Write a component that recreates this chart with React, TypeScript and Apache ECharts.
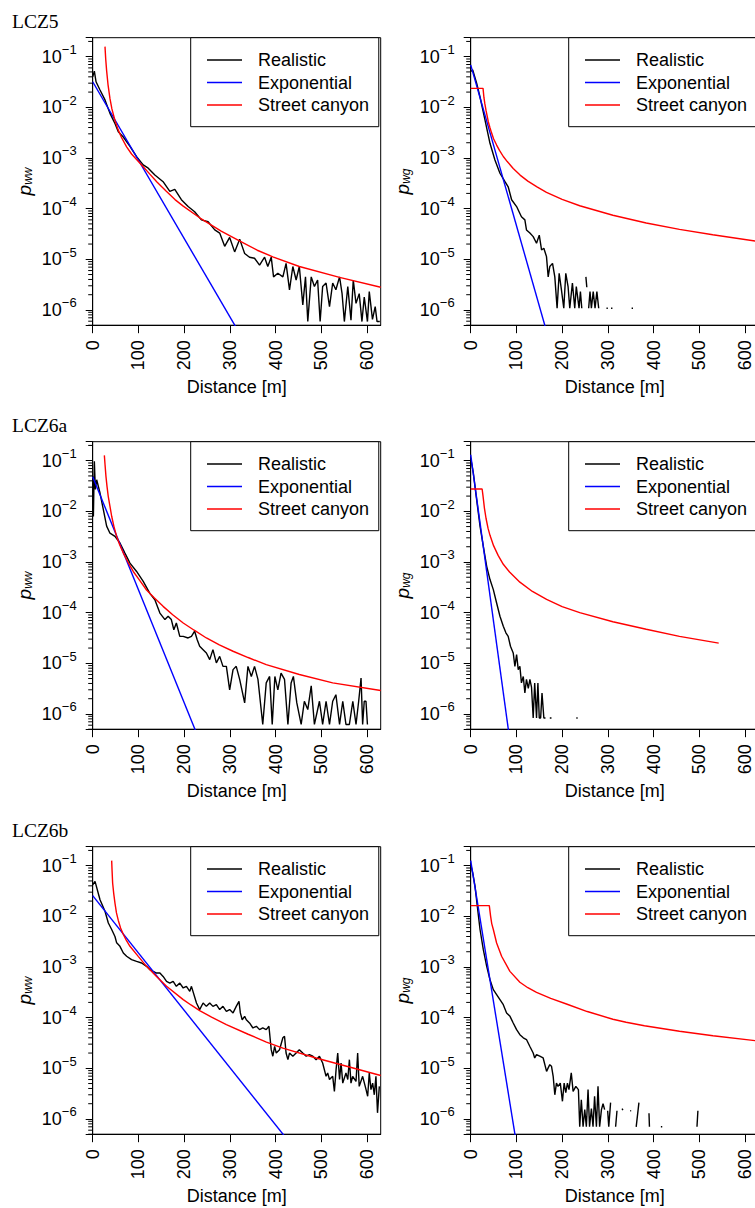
import React, { useEffect, useRef } from 'react';
import * as echarts from 'echarts';

type Pt = [number, number | null];

const SERIES_NAMES = ['Realistic', 'Exponential', 'Street canyon'];
const SERIES_COLORS = ['#000000', '#0000ff', '#ff0000'];
const ROW_LABELS = ['LCZ5', 'LCZ6a', 'LCZ6b'];
const X_TICKS = [0, 100, 200, 300, 400, 500, 600];
const X_NAME = 'Distance [m]';
const Y_SUBSCRIPTS = ['ww', 'wg'];
const X_MIN = 0;
const X_MAX = 630;
const Y_MIN = 5e-7;
const Y_MAX = 0.237;

// ---------- LCZ5 ----------
const lcz5WwRealistic: Pt[] = [
  [0, 4.0e-2], [3.6, 5.2e-2], [7.3, 3.2e-2], [16, 2.2e-2], [26.9, 1.4e-2], [37.8, 7.6e-3], [48.7, 4.8e-3],
  [56, 3.3e-3], [66.9, 2.6e-3], [81.5, 1.7e-3], [96, 1.06e-3], [110.5, 7.3e-4], [121.5, 6.3e-4], [136, 4.6e-4],
  [154, 3.4e-4], [168.7, 2.2e-4], [179.6, 2.4e-4], [194, 1.5e-4], [208.7, 1.1e-4], [223, 8.7e-5], [237.8, 6.0e-5],
  [252.4, 5.5e-5], [267, 3.8e-5], [277.8, 3.3e-5], [288.7, 1.8e-5], [299.6, 2.7e-5], [310.5, 1.4e-5], [321.5, 2.5e-5],
  [332.4, 1.3e-5], [343, 1.1e-5], [354, 1.05e-5], [365, 7.7e-6], [376, 1.1e-5], [383, 7.2e-6], [390.5, 1.1e-5],
  [395.6, 4.5e-6], [405, 5.3e-6], [416, 4.5e-6], [423, 8.3e-6], [430.5, 2.5e-6], [437.8, 7.2e-6], [445, 3.9e-6],
  [452, 7.2e-6], [459.6, 1.26e-6], [465.5, 4.5e-6], [470.5, 5.9e-7], [478, 4.5e-6], [485, 2.9e-6], [492, 3.9e-6],
  [497.5, 5.9e-7], [503, 2.9e-6], [510.5, 3.4e-6], [518, 1.16e-6], [525, 3.4e-6], [532, 2.5e-6], [540, 4.5e-6],
  [545.5, 2.1e-6], [550.5, 5.9e-7], [558, 2.9e-6], [565, 6.3e-7], [570, 3.9e-6], [576, 1.35e-6], [583, 2.1e-6],
  [589, 5.9e-7], [594, 1.8e-6], [601, 5.9e-7], [605, 2.3e-6], [612, 6.5e-7], [618, 1.16e-6], [622, 5.9e-7], [628, 5.9e-7],
];
const lcz5WwExponential: Pt[] = [[0, 3.2e-2], [320, 3.6e-7]];
const lcz5WwStreetCanyon: Pt[] = [
  [26.9, 1.58e-1], [28.5, 8.9e-2], [30.5, 5.25e-2], [33.5, 2.82e-2], [37.8, 1.48e-2], [42, 9.3e-3], [48.7, 5.5e-3],
  [56, 3.55e-3], [63.3, 2.51e-3], [74.2, 1.66e-3], [85, 1.2e-3], [96, 9.3e-4], [110, 6.8e-4], [125, 4.8e-4],
  [140, 3.4e-4], [161, 2.2e-4], [180, 1.51e-4], [198, 1.12e-4], [234, 6.6e-5], [281, 3.6e-5], [321, 2.3e-5],
  [360, 1.51e-5], [394, 1.12e-5], [452, 7.2e-6], [540, 4.4e-6], [630, 2.8e-6],
];

const lcz5WgRealistic: Pt[] = [
  [0, 5.1e-2], [4.4, 5.5e-2], [13, 3.0e-2], [20.4, 1.6e-2], [31.3, 5.6e-3], [42.2, 1.95e-3], [53, 9.1e-4], [64, 5.0e-4],
  [75, 3.4e-4], [82, 2.7e-4], [89.5, 1.5e-4], [100.4, 1.1e-4], [111, 6.9e-5], [118.5, 6.0e-5], [122, 3.8e-5],
  [129.5, 3.3e-5], [136.7, 2.8e-5], [144, 2.07e-5], [150, 3.0e-5], [155, 1.53e-5], [160, 1.65e-5], [165.8, 1.13e-5],
  [169.5, 4.5e-6], [173, 7.2e-6], [179, 8.3e-6], [184, 4.5e-6], [189, 1.08e-6], [193.5, 5.3e-6], [198.5, 2.5e-6],
  [203.6, 1.08e-6], [208, 5.3e-6], [213, 2.9e-6], [216.7, 1.08e-6], [222.5, 3.4e-6], [227.6, 1.08e-6], [231, 2.9e-6],
  [237, 1.08e-6], [240, 2.3e-6], [243, 1.08e-6], [246, null], [252, 4.5e-6], [254, 2.8e-6], [255, null],
  [258, 1.08e-6], [261, 2.3e-6], [264, 1.08e-6], [268, 2.3e-6], [272, 1.08e-6], [276, 2.3e-6], [280, 1.08e-6],
  [285, null], [297, 1.08e-6], [300, 1.08e-6], [302, null], [307, 1.08e-6], [310, 1.08e-6], [312, null],
  [352, 1.08e-6], [355, 1.08e-6],
];
const lcz5WgExponential: Pt[] = [[0, 6.9e-2], [170, 2.8e-7]];
const lcz5WgStreetCanyon: Pt[] = [
  [0, 2.37e-2], [27, 2.37e-2], [29, 1.55e-2], [31, 1.17e-2], [33.5, 8.7e-3], [38.5, 5.2e-3], [42, 4.0e-3],
  [45.8, 3.1e-3], [50, 2.4e-3], [56.7, 1.8e-3], [63, 1.41e-3], [71.3, 1.07e-3], [80, 8.5e-4], [93, 6.2e-4],
  [108, 4.6e-4], [125, 3.5e-4], [145, 2.7e-4], [165.8, 2.1e-4], [200, 1.52e-4], [238.5, 1.14e-4], [311, 7.4e-5],
  [384, 5.2e-5], [456.7, 3.9e-5], [529.5, 3.05e-5], [630, 2.25e-5],
];

// ---------- LCZ6a ----------
const lcz6aWwRealistic: Pt[] = [
  [0, 4.9e-2], [1.5, 7.9e-3], [3.6, 9.7e-2], [5.8, 2.7e-2], [8.7, 4.2e-2], [16, 2.3e-2], [23.3, 1.08e-2],
  [30.5, 5.1e-3], [37.8, 3.7e-3], [48.7, 3.2e-3], [59.6, 2.37e-3], [70.5, 1.5e-3], [81.5, 9.5e-4], [96, 6.5e-4],
  [110.5, 4.15e-4], [125, 2.4e-4], [136, 1.8e-4], [147, 9.8e-5], [158, 7.3e-5], [165, 8.5e-5], [172, 7.3e-5],
  [177.5, 4.6e-5], [183, 6.25e-5], [190.5, 3.4e-5], [198, 3.4e-5], [208.7, 3.16e-5], [216, 3.4e-5], [223, 4.3e-5],
  [228.4, 2.95e-5], [234, 2.17e-5], [241.5, 1.86e-5], [248.7, 1.6e-5], [256, 1.18e-5], [263, 1.86e-5],
  [270.5, 1.02e-5], [277.8, 1.37e-5], [285, 8.7e-6], [292.4, 8.7e-6], [299.6, 3.0e-6], [307, 7.5e-6], [314, 8.7e-6],
  [321.5, 4.8e-6], [332.4, 1.65e-6], [339.6, 8.7e-6], [347, 5.5e-6], [354, 8.7e-6], [361.5, 4.8e-6], [372, 6.2e-7],
  [379.6, 4.1e-6], [387, 5.5e-6], [392.7, 6.2e-7], [398.5, 5.5e-6], [405, 3.0e-6], [412, 6.4e-6], [419.6, 4.8e-6],
  [427, 6.2e-7], [434, 4.1e-6], [439, 5.5e-6], [446.5, 1.65e-6], [456, 6.2e-7], [463, 1.78e-6], [470.5, 1.22e-6],
  [478, 3.6e-6], [485, 6.2e-7], [496, 1.78e-6], [503, 6.2e-7], [510.5, 1.78e-6], [518, 6.2e-7], [525, 1.78e-6],
  [532, 2.4e-6], [540, 6.2e-7], [547, 1.78e-6], [554, 6.2e-7], [561.5, 6.2e-7], [569, 1.78e-6], [576, 6.2e-7],
  [581.8, 1.78e-6], [587, 5.1e-6], [590.5, 6.2e-7], [594, 1.78e-6], [597.8, 1.78e-6], [601, 6.2e-7],
];
const lcz6aWwExponential: Pt[] = [[0, 4.8e-2], [230, 3.6e-7]];
const lcz6aWwStreetCanyon: Pt[] = [
  [25.5, 1.27e-1], [27, 8.3e-2], [29, 4.9e-2], [31.3, 3.1e-2], [34, 1.98e-2], [37.5, 1.3e-2], [41.5, 8.0e-3],
  [46.5, 5.0e-3], [52.4, 3.2e-3], [59, 2.2e-3], [67, 1.5e-3], [77, 1.0e-3], [88.7, 6.5e-4], [102, 4.45e-4],
  [117.8, 2.8e-4], [135, 1.95e-4], [154, 1.33e-4], [175, 9.1e-5], [198, 6.25e-5], [222, 4.5e-5], [248.7, 3.16e-5],
  [277, 2.3e-5], [307, 1.73e-5], [340, 1.3e-5], [379.6, 9.4e-6], [452, 6.0e-6], [525, 4.1e-6], [630, 2.9e-6],
];

const lcz6aWgRealistic: Pt[] = [
  [0, 1.13e-1], [5.8, 5.7e-2], [13, 1.7e-2], [20.4, 5.1e-3], [27.6, 2.04e-3], [35, 8.2e-4], [42.2, 4.5e-4],
  [49.5, 2.85e-4], [56.7, 1.55e-4], [64, 8.5e-5], [71.3, 5.4e-5], [77, 4.0e-5], [82, 3.4e-5], [87, 2.17e-5],
  [93, 1.6e-5], [96.7, 8.7e-6], [100.4, 1.48e-5], [104, 7.5e-6], [107.6, 8.7e-6], [111, 4.1e-6], [115, 5.5e-6],
  [118.5, 2.6e-6], [122, 4.8e-6], [126, 3.2e-6], [129.5, 4.8e-6], [133, 3.4e-6], [136.7, 8.3e-7], [140, 4.1e-6],
  [144, 8.3e-7], [147, 4.1e-6], [150, 8.3e-7], [153, 8.3e-7], [156, 2.6e-6], [160, 8.3e-7], [163.6, 8.3e-7],
  [165, null], [173, 8.3e-7], [176.7, 8.3e-7], [178, null], [231, 8.3e-7], [234, 8.3e-7],
];
const lcz6aWgExponential: Pt[] = [[0, 1.31e-1], [85, 3.3e-7]];
const lcz6aWgStreetCanyon: Pt[] = [
  [0, 2.76e-2], [25, 2.76e-2], [27, 2.0e-2], [30, 1.16e-2], [33.5, 7.3e-3], [38, 4.6e-3], [42.2, 3.36e-3],
  [50, 2.1e-3], [60, 1.35e-3], [71.3, 9.0e-4], [85, 6.35e-4], [107.6, 4.0e-4], [135, 2.62e-4], [166, 1.82e-4],
  [200, 1.31e-4], [238.5, 1.0e-4], [311, 6.6e-5], [384, 4.7e-5], [456.7, 3.4e-5], [542.5, 2.5e-5],
];

// ---------- LCZ6b ----------
const lcz6bWwRealistic: Pt[] = [
  [0, 4.2e-2], [5.1, 4.9e-2], [16, 2.13e-2], [26.9, 1.26e-2], [34.2, 7.4e-3], [41.5, 5.5e-3], [48.7, 4.0e-3],
  [52.4, 3.0e-3], [59.6, 2.56e-3], [67, 1.89e-3], [74.2, 1.63e-3], [85, 1.4e-3], [96, 1.29e-3], [107, 1.2e-3],
  [117.8, 1.03e-3], [125, 8.9e-4], [132.4, 8.2e-4], [139.6, 7.6e-4], [147, 7.6e-4], [154, 6.5e-4], [161.5, 5.2e-4],
  [168.7, 4.8e-4], [176, 5.2e-4], [183, 4.15e-4], [190.5, 4.8e-4], [198, 3.85e-4], [205, 4.15e-4], [212.4, 3.3e-4],
  [216, 4.15e-4], [227, 1.95e-4], [234, 1.44e-4], [241.5, 1.95e-4], [248.7, 1.67e-4], [256, 1.95e-4], [263, 1.67e-4],
  [270.5, 1.8e-4], [277.8, 1.44e-4], [285, 1.67e-4], [292.4, 1.33e-4], [299.6, 1.44e-4], [307, 1.24e-4],
  [314, 1.67e-4], [320, 2.1e-4], [323, 1.24e-4], [327, 9.1e-5], [332.4, 1.06e-4], [336, 9.1e-5], [343, 7.85e-5],
  [350.5, 6.25e-5], [358, 6.75e-5], [365, 5.8e-5], [372, 6.25e-5], [379.6, 5.8e-5], [385.5, 6.75e-5],
  [390.5, 2.33e-5], [394, 1.73e-5], [398, 2.7e-5], [401.5, 2.0e-5], [408.7, 2.33e-5], [416, 4.0e-5], [419.6, 4.3e-5],
  [423, 2.0e-5], [427, 1.48e-5], [430.5, 2.0e-5], [437.8, 1.73e-5], [445, 2.0e-5], [452, 2.33e-5], [459.6, 2.0e-5],
  [467, 1.73e-5], [474, 1.86e-5], [481.5, 1.73e-5], [488.7, 1.48e-5], [496, 1.73e-5], [503, 1.27e-5],
  [510.5, 6.95e-6], [514, 8.1e-6], [518, 6.0e-6], [525, 6.95e-6], [528.7, 3.5e-6], [532.4, 9.4e-6], [536, 2.0e-5],
  [540, 6.0e-6], [543.3, 1.27e-5], [547, 5.1e-6], [554, 8.1e-6], [558, 6.0e-6], [561.5, 1.48e-5], [565, 5.1e-6],
  [568.7, 6.95e-6], [576, 5.5e-6], [579.6, 2.0e-5], [583, 4.4e-6], [590.5, 6.95e-6], [598, 3.8e-6], [601.5, 2.8e-6],
  [605, 8.1e-6], [608.7, 3.8e-6], [612.4, 5.1e-6], [616, 3.0e-6], [619.6, 6.95e-6], [623, 1.32e-6], [627, 4.4e-6],
];
const lcz6bWwExponential: Pt[] = [[0, 2.56e-2], [430, 3.5e-7]];
const lcz6bWwStreetCanyon: Pt[] = [
  [41.5, 1.26e-1], [42.4, 7.9e-2], [43.6, 4.55e-2], [46, 2.8e-2], [48.7, 1.83e-2], [52, 1.17e-2], [56, 8.3e-3],
  [61, 5.9e-3], [67, 4.37e-3], [74, 3.3e-3], [81.5, 2.56e-3], [99.6, 1.62e-3], [117.8, 1.03e-3], [139.6, 6.5e-4],
  [161.5, 4.17e-4], [198, 2.27e-4], [215, 1.78e-4], [234, 1.38e-4], [260, 1.02e-4], [292.4, 7.3e-5], [340, 4.7e-5],
  [380, 3.3e-5], [416, 2.5e-5], [488.7, 1.6e-5], [561.5, 1.06e-5], [630, 7.2e-6],
];

const lcz6bWgRealistic: Pt[] = [
  [0, 1.05e-1], [4.4, 7.2e-2], [9.5, 3.9e-2], [14.5, 1.57e-2], [20.4, 5.5e-3], [27.6, 2.2e-3], [35, 1.03e-3],
  [42.2, 5.6e-4], [49.5, 3.57e-4], [56.7, 2.84e-4], [64, 2.26e-4], [71.3, 1.8e-4], [78.5, 1.24e-4], [86, 1.06e-4],
  [93, 7.85e-5], [100.4, 5.8e-5], [107.6, 4.6e-5], [115, 4.0e-5], [122, 3.7e-5], [129.5, 2.7e-5], [136.7, 2.0e-5],
  [140, 1.6e-5], [144, 1.86e-5], [151, 1.73e-5], [158.5, 1.6e-5], [166, 8.7e-6], [169.5, 1.02e-5], [173, 1.18e-5],
  [176.7, 1.1e-5], [180.4, 6.95e-6], [184, 3.0e-6], [187.6, 5.1e-6], [191, 4.4e-6], [196, 5.1e-6], [200.7, 2.23e-6],
  [204.4, 5.1e-6], [208, 3.3e-6], [211.6, 5.1e-6], [215, 3.8e-6], [220, 8.1e-6], [224, 3.5e-6], [230, 4.4e-6],
  [235.6, 3.8e-6], [238.5, 7e-7], [242, 2.4e-6], [245.8, 7e-7], [249.5, 1.53e-6], [253, 7e-7], [256.7, 3.8e-6],
  [260, 7e-7], [264, 1.6e-6], [267.6, 7e-7], [271, 2.8e-6], [275, 7e-7], [278.5, 4.4e-6], [282, 7e-7],
  [286, 1.53e-6], [289.5, 2.0e-6], [293, 1.53e-6], [296, null], [299.6, 1.45e-6], [302, 7e-7], [306, 2.1e-6],
  [308, null], [317, 7e-7], [320, 1.45e-6], [322, null], [331, 1.6e-6], [333, 1.5e-6], [334, null],
  [349, 1.45e-6], [351, 1.45e-6], [353, null], [362, 7e-7], [368, 2.1e-6], [370, null], [390, 1.3e-6],
  [391, 7e-7], [393, null], [416, 7e-7], [419, 7e-7], [420, null], [495, 7e-7], [497, 1.45e-6],
];
const lcz6bWgExponential: Pt[] = [[0, 1.26e-1], [100, 3.3e-7]];
const lcz6bWgStreetCanyon: Pt[] = [
  [0, 1.63e-2], [40.7, 1.63e-2], [43.6, 1.0e-2], [46, 7.2e-3], [49.5, 5.5e-3], [56.7, 2.98e-3], [67.6, 1.63e-3],
  [85.8, 8.2e-4], [107.6, 5.0e-4], [125, 3.9e-4], [144, 3.16e-4], [175, 2.4e-4], [209.5, 1.86e-4], [255, 1.32e-4],
  [311, 9.3e-5], [340, 8.1e-5], [380, 6.9e-5], [456.7, 5.4e-5], [530, 4.4e-5], [630, 3.45e-5],
];

const PANELS = [
  { row: 0, col: 0, sets: [lcz5WwRealistic, lcz5WwExponential, lcz5WwStreetCanyon] },
  { row: 0, col: 1, sets: [lcz5WgRealistic, lcz5WgExponential, lcz5WgStreetCanyon] },
  { row: 1, col: 0, sets: [lcz6aWwRealistic, lcz6aWwExponential, lcz6aWwStreetCanyon] },
  { row: 1, col: 1, sets: [lcz6aWgRealistic, lcz6aWgExponential, lcz6aWgStreetCanyon] },
  { row: 2, col: 0, sets: [lcz6bWwRealistic, lcz6bWwExponential, lcz6bWwStreetCanyon] },
  { row: 2, col: 1, sets: [lcz6bWgRealistic, lcz6bWgExponential, lcz6bWgStreetCanyon] },
];

// minor tick positions (2..9 x 10^n) for the log axis
const Y_MINOR: number[] = [];
for (let e = -7; e <= -1; e++) {
  for (let k = 2; k <= 9; k++) {
    const v = Number((k * Math.pow(10, e)).toPrecision(3));
    if (v >= Y_MIN * 0.999 && v <= Y_MAX) Y_MINOR.push(v);
  }
}

// ---------- layout ----------
const W = 755;
const H = 1208;
const GRID_LEFTS = [92.7, 470.7];
const GRID_TOPS = [37.7, 441.7, 846.7];
const GRID_W = 288;
const GRID_H = 287.5;
const ROW_LABEL_Y = [21, 425, 830];
const FONT = '"Liberation Sans", Arial, Helvetica, sans-serif';

function buildOption() {
  const grid: any[] = [];
  const xAxis: any[] = [];
  const yAxis: any[] = [];
  const legend: any[] = [];
  const series: any[] = [];

  PANELS.forEach((p, i) => {
    const left = GRID_LEFTS[p.col];
    const top = GRID_TOPS[p.row];
    grid.push({
      left, top, width: GRID_W, height: GRID_H,
      show: true, borderColor: '#000', borderWidth: 1, backgroundColor: 'transparent',
      containLabel: false, outerBoundsMode: 'none',
    });
    xAxis.push({
      gridIndex: i, type: 'value', min: X_MIN, max: X_MAX, interval: 100,
      name: X_NAME, nameLocation: 'middle', nameGap: 53,
      nameTextStyle: { fontFamily: FONT, fontSize: 18, color: '#000', lineHeight: 18 },
      axisLine: { show: true, onZero: false, lineStyle: { color: '#000', width: 1 } },
      axisTick: { show: true, length: 8, lineStyle: { color: '#000', width: 1 }, customValues: X_TICKS },
      axisLabel: {
        rotate: 90, margin: 15, fontFamily: FONT, fontSize: 18, color: '#000', customValues: X_TICKS,
        formatter: (v: number) => (v > 600 ? '' : String(v)),
      },
      splitLine: { show: false },
    });
    const sub = Y_SUBSCRIPTS[p.col];
    yAxis.push({
      gridIndex: i, type: 'log', logBase: 10, min: Y_MIN, max: Y_MAX,
      name: `{p|p}{s|${sub}}`, nameLocation: 'middle', nameGap: 59, nameRotate: 90,
      nameTextStyle: {
        color: '#000',
        rich: {
          p: { fontFamily: FONT, fontSize: 19, fontStyle: 'italic', lineHeight: 19, verticalAlign: 'top', color: '#000' },
          s: { fontFamily: FONT, fontSize: 12, fontStyle: 'italic', lineHeight: 8, verticalAlign: 'bottom', color: '#000' },
        },
      },
      axisLine: { show: true, onZero: false, lineStyle: { color: '#000', width: 1 } },
      axisTick: { show: true, length: 7, lineStyle: { color: '#000', width: 1 } },
      axisLabel: {
        margin: 16, color: '#000',
        formatter: (v: number) => {
          const l = Math.log10(v);
          const e = Math.round(l);
          if (Math.abs(l - e) > 1e-6) return '';
          return `{b|10}{s|\u2212${-e}}`;
        },
        rich: {
          b: { fontFamily: FONT, fontSize: 18, lineHeight: 27, color: '#000' },
          s: { fontFamily: FONT, fontSize: 13, lineHeight: 13, verticalAlign: 'top', color: '#000' },
        },
      },
      splitLine: { show: false },
      minorTick: { show: false },
    });
    legend.push({
      data: SERIES_NAMES, orient: 'vertical', left: left + 98, top,
      icon: 'rect', itemWidth: 35, itemHeight: 1.6, itemGap: 4.5,
      padding: [13.3, 9.7, 12.7, 16.3],
      borderColor: '#000', borderWidth: 1, backgroundColor: '#fff',
      selectedMode: false,
      textStyle: { fontFamily: FONT, fontSize: 18, color: '#000', lineHeight: 18, padding: [0, 0, 0, 11] },
    });
    series.push({
      type: 'custom', xAxisIndex: i, yAxisIndex: i, silent: true, clip: false, z: 3,
      data: Y_MINOR.map((v) => [0, v]),
      renderItem: (_params: any, api: any) => {
        const pt = api.coord([X_MIN, api.value(1)]);
        return {
          type: 'line',
          shape: { x1: pt[0] - 4.5, y1: pt[1], x2: pt[0], y2: pt[1] },
          style: { stroke: '#000', lineWidth: 1 },
        };
      },
    });
    p.sets.forEach((data, k) => {
      series.push({
        type: 'line', name: SERIES_NAMES[k], xAxisIndex: i, yAxisIndex: i,
        data: data.map((d) => [d[0], d[1]]),
        showSymbol: false, symbol: 'none', connectNulls: false, clip: true, silent: true,
        lineStyle: { color: SERIES_COLORS[k], width: 1.4 },
        itemStyle: { color: SERIES_COLORS[k] },
        emphasis: { disabled: true },
        z: 2 + k * 0.1,
      });
    });
  });

  const graphic = ROW_LABELS.map((t, r) => ({
    type: 'text', x: 12, y: ROW_LABEL_Y[r], silent: true,
    style: {
      text: t, fill: '#000', font: '19.5px "Liberation Serif", "Times New Roman", serif',
      align: 'left', verticalAlign: 'middle', textAlign: 'left', textVerticalAlign: 'middle',
    },
  }));

  return {
    animation: false,
    backgroundColor: '#ffffff',
    grid, xAxis, yAxis, legend, series, graphic,
  };
}

export default function App() {
  const ref = useRef<HTMLDivElement>(null);
  useEffect(() => {
    if (!ref.current) return;
    const chart = echarts.init(ref.current, null, { renderer: 'svg', width: W, height: H });
    chart.setOption(buildOption() as any);
    return () => chart.dispose();
  }, []);
  return (
    <div
      ref={ref}
      style={{ position: 'absolute', left: 0, top: 0, width: W, height: H, background: '#fff' }}
    />
  );
}
